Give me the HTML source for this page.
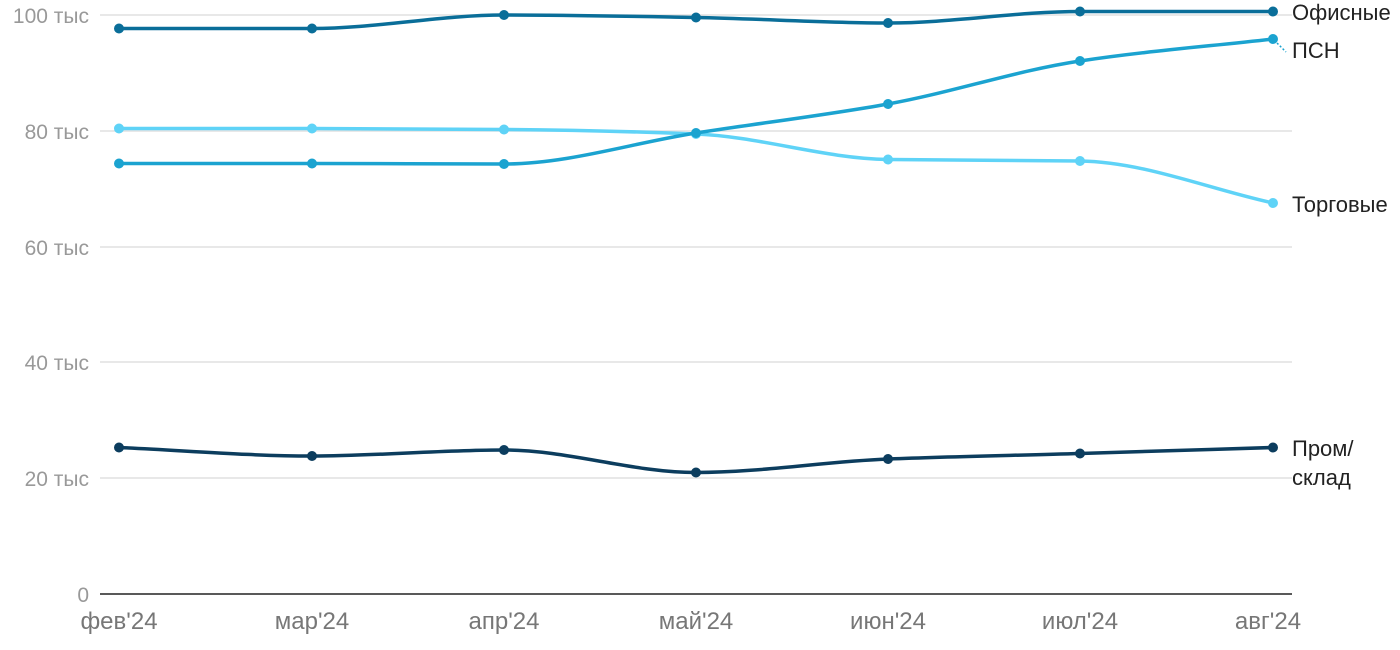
<!DOCTYPE html>
<html><head><meta charset="utf-8"><style>
html,body{margin:0;padding:0;background:#fff;width:1400px;height:650px;overflow:hidden}
text{font-family:"Liberation Sans",sans-serif}
</style></head><body>
<svg id="s" width="1400" height="650" xmlns="http://www.w3.org/2000/svg">
<g stroke="#e0e0e0" stroke-width="1.5">
<line x1="100" x2="1292" y1="15" y2="15"/>
<line x1="100" x2="1292" y1="131" y2="131"/>
<line x1="100" x2="1292" y1="247" y2="247"/>
<line x1="100" x2="1292" y1="362" y2="362"/>
<line x1="100" x2="1292" y1="478" y2="478"/>
</g>
<line x1="100" x2="1292" y1="594" y2="594" stroke="#222" stroke-width="1.5"/>
<g fill="#999" font-size="21" text-anchor="end">
<text x="89" y="23">100 тыс</text>
<text x="89" y="139">80 тыс</text>
<text x="89" y="255">60 тыс</text>
<text x="89" y="370">40 тыс</text>
<text x="89" y="486">20 тыс</text>
<text x="89" y="602">0</text>
</g>
<g fill="#777" font-size="24" text-anchor="middle">
<text x="119" y="629">фев'24</text>
<text x="312" y="629">мар'24</text>
<text x="504" y="629">апр'24</text>
<text x="696" y="629">май'24</text>
<text x="888" y="629">июн'24</text>
<text x="1080" y="629">июл'24</text>
<text x="1268" y="629">авг'24</text>
</g>
<g fill="#222" font-size="22">
<text x="1292" y="20">Офисные</text>
<text x="1292" y="58">ПСН</text>
<text x="1292" y="212">Торговые</text>
<text x="1292" y="456">Пром/</text>
<text x="1292" y="485">склад</text>
</g>
<line x1="1277" y1="43" x2="1286" y2="52" stroke="#1ba3d0" stroke-width="1.5" stroke-dasharray="2,2"/>
<g id="series"></g>
</svg>
<script>
var X=[119,312,504,696,888,1080,1273];
var S=[
["#5fd3f7",[128.5,128.5,129.5,134,159.5,161,203]],
["#1ba3d0",[163.5,163.5,164,133,104,61,39]],
["#0a6e99",[28.5,28.5,15,17.5,23,11.5,11.5]],
["#0c3d5e",[447.5,456,450,472.5,459,453.5,447.5]]];
function mono(x,y){var n=x.length,d=[],m=[];for(var i=0;i<n-1;i++)d.push((y[i+1]-y[i])/(x[i+1]-x[i]));
m[0]=d[0];m[n-1]=d[n-2];for(i=1;i<n-1;i++){if(d[i-1]*d[i]<=0)m[i]=0;else{var h0=x[i]-x[i-1],h1=x[i+1]-x[i];m[i]=3*(h0+h1)/((2*h1+h0)/d[i-1]+(h1+2*h0)/d[i]);}}
var p="M"+x[0]+","+y[0];for(i=0;i<n-1;i++){var h=(x[i+1]-x[i])/3;p+="C"+(x[i]+h)+","+(y[i]+m[i]*h)+" "+(x[i+1]-h)+","+(y[i+1]-m[i+1]*h)+" "+x[i+1]+","+y[i+1];}return p;}
var g=document.getElementById("series"),ns="http://www.w3.org/2000/svg";
S.forEach(function(s){var p=document.createElementNS(ns,"path");p.setAttribute("d",mono(X,s[1]));p.setAttribute("fill","none");p.setAttribute("stroke",s[0]);p.setAttribute("stroke-width","3.5");g.appendChild(p);
s[1].forEach(function(y,i){var c=document.createElementNS(ns,"circle");c.setAttribute("cx",X[i]);c.setAttribute("cy",y);c.setAttribute("r","5");c.setAttribute("fill",s[0]);g.appendChild(c);});});
</script>
</body></html>
